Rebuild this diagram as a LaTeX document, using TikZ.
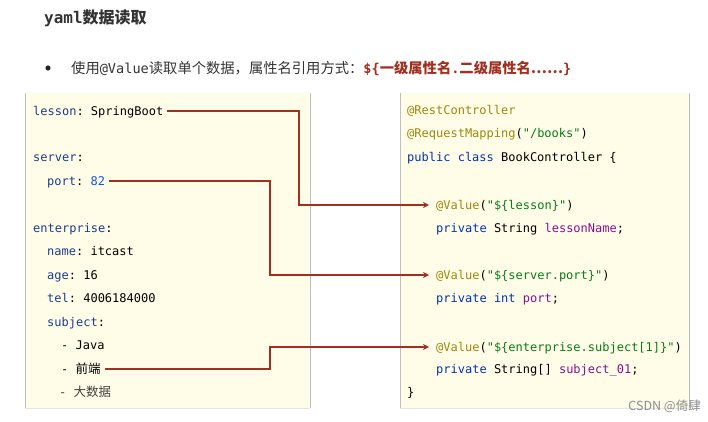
\documentclass[tikz,border=0pt]{standalone}
\usepackage{fontspec}
\setmonofont{DejaVu Sans Mono}
\newfontfamily\cjk{Noto Sans CJK SC}
\usetikzlibrary{arrows.meta}
\definecolor{bg}{HTML}{FFFDE8}
\definecolor{keyc}{HTML}{1D3C8F}
\definecolor{numc}{HTML}{1750EB}
\definecolor{annc}{HTML}{9E880D}
\definecolor{strc}{HTML}{067D17}
\definecolor{kwc}{HTML}{0033B3}
\definecolor{fldc}{HTML}{871094}
\definecolor{linkc}{HTML}{A0301F}
\definecolor{titc}{HTML}{333333}
\newcommand\cf{\ttfamily\fontsize{12}{14}\selectfont}
\newcommand\cjkc[1]{{\cjk\fontsize{12.5}{14}\selectfont #1}}
\newcommand\ky[1]{\textcolor{keyc}{#1}}
\newcommand\an[1]{\textcolor{annc}{#1}}
\newcommand\st[1]{\textcolor{strc}{#1}}
\newcommand\kw[1]{\textcolor{kwc}{#1}}
\newcommand\fl[1]{\textcolor{fldc}{#1}}
\tikzset{
  code/.style={anchor=west, inner sep=0pt, font=\cf, text height=10pt, text depth=2pt},
  link/.style={draw=linkc, line width=1.6pt, shorten <=4pt, shorten >=7pt,
    -{Stealth[length=6pt,width=6pt]}},
  panel/.style={fill=bg},
  edge/.style={draw=black!25, line width=0.8pt}
}
\begin{document}
\begin{tikzpicture}[x=1pt,y=-1pt]
\useasboundingbox (0,0) rectangle (708,421);
% title
\node[anchor=west, inner sep=0pt, text=titc] (title) at (44,18)
  {{\ttfamily\bfseries\fontsize{16}{18}\selectfont yaml}{\cjk\bfseries\fontsize{16}{18}\selectfont 数据读取}};
% bullet line
\fill[black!85] (48,68) circle (2.6pt);
\node[anchor=west, inner sep=0pt, text=titc] (bullet) at (71,68)
  {{\cjk\fontsize{14.3}{16}\selectfont 使用}{\ttfamily\fontsize{13.6}{16}\selectfont @Value}{\cjk\fontsize{14.3}{16}\selectfont 读取单个数据，属性名引用方式：}\textcolor{linkc}{\bfseries{\ttfamily\fontsize{13.6}{16}\selectfont \$\{}{\cjk\fontsize{14.3}{16}\selectfont 一级属性名}{\ttfamily\fontsize{13.6}{16}\selectfont .}{\cjk\fontsize{14.3}{16}\selectfont 二级属性名……}{\ttfamily\fontsize{13.6}{16}\selectfont \}}}};
% panels
\fill[panel] (25,93) rectangle (310,408);
\draw[edge] (25,93) -- (25,408);
\draw[edge] (310,93) -- (310,408);
\draw[black!10] (25,408) -- (310,408);
\fill[panel] (400,93) rectangle (689,408);
\draw[edge] (400,93) -- (400,408);
\draw[edge] (689,93) -- (689,408);
\draw[black!10] (400,408) -- (689,408);
% left yaml
\node[code] (l1) at (33,111) {\ky{lesson}: SpringBoot};
\node[code] (l2) at (33,157) {\ky{server}:};
\node[code] (l3) at (47,181) {\ky{port}: \textcolor{numc}{82}};
\node[code] (l4) at (33,228) {\ky{enterprise}:};
\node[code] (l5) at (47,251) {\ky{name}: itcast};
\node[code] (l6) at (47,275) {\ky{age}: 16};
\node[code] (l7) at (47,298) {\ky{tel}: 4006184000};
\node[code] (l8) at (47,322) {\ky{subject}:};
\node[code] (l9) at (61,345) {- Java};
\node[code] (l10) at (61,369) {- \cjkc{前端}};
\node[code, text=black!75] (l11) at (59,392) {- \cjkc{大数据}};
% right java
\node[code] (r1) at (407,110) {\an{@RestController}};
\node[code] (r2) at (407,133) {\an{@RequestMapping}(\st{"/books"})};
\node[code] (r3) at (407,157) {\kw{public class} BookController \{};
\node[code] (v1) at (436,205) {\an{@Value}(\st{"\$\{lesson\}"})};
\node[code] (r5) at (436,228) {\kw{private} String \fl{lessonName};};
\node[code] (v2) at (436,275) {\an{@Value}(\st{"\$\{server.port\}"})};
\node[code] (r7) at (436,298) {\kw{private int} \fl{port};};
\node[code] (v3) at (436,347) {\an{@Value}(\st{"\$\{enterprise.subject[1]\}"})};
\node[code] (r9) at (436,369) {\kw{private} String[] \fl{subject\_01};};
\node[code] (r10) at (407,392) {\}};
% connectors
\coordinate (k1) at (299,205);
\coordinate (k2) at (270,275);
\coordinate (k3) at (270,347);
\draw[link] (l1.east) -| (k1) -- (v1.west);
\draw[link] (l3.east) -| (k2) -- (v2.west);
\draw[link] (l10.east) -| (k3) -- (v3.west);
% watermark
\node[anchor=east, inner sep=0pt, text=black!45, font=\cjk\fontsize{12.5}{14}\selectfont] (wm) at (701,406) {CSDN @倚肆};
\end{tikzpicture}
\end{document}
